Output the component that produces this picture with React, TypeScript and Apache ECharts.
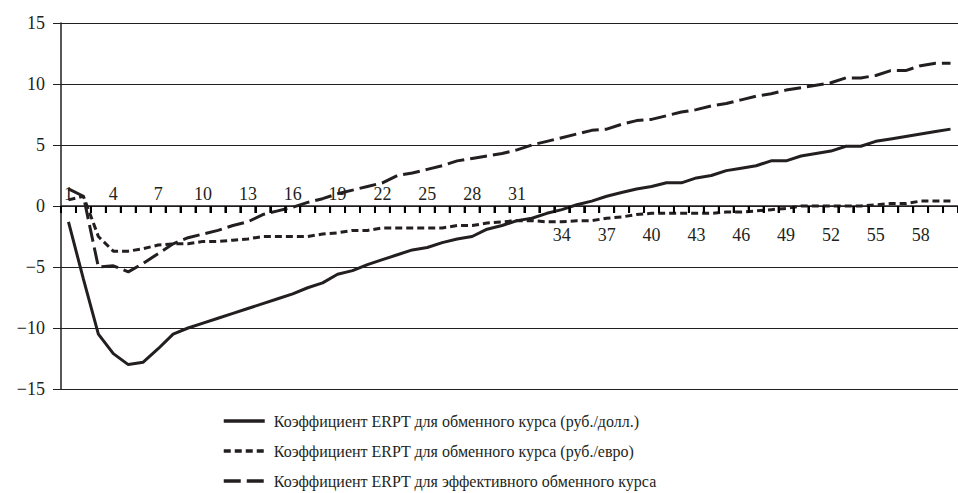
import React, { useEffect, useRef } from "react";
import * as echarts from "echarts";

const categories: string[] = [
  "1", "2", "3", "4", "5", "6", "7", "8", "9", "10",
  "11", "12", "13", "14", "15", "16", "17", "18", "19", "20",
  "21", "22", "23", "24", "25", "26", "27", "28", "29", "30",
  "31", "32", "33", "34", "35", "36", "37", "38", "39", "40",
  "41", "42", "43", "44", "45", "46", "47", "48", "49", "50",
  "51", "52", "53", "54", "55", "56", "57", "58", "59", "60",
];

const seriesNames: string[] = [
  "Коэффициент ERPT для обменного курса (руб./долл.)",
  "Коэффициент ERPT для обменного курса (руб./евро)",
  "Коэффициент ERPT для эффективного обменного курса",
];

const usdValues: number[] = [
  -1.3, -6.0, -10.5, -12.1, -13.0, -12.8, -11.7, -10.5, -10.0, -9.6,
  -9.2, -8.8, -8.4, -8.0, -7.6, -7.2, -6.7, -6.3, -5.6, -5.3,
  -4.8, -4.4, -4.0, -3.6, -3.4, -3.0, -2.7, -2.5, -1.9, -1.6,
  -1.2, -1.0, -0.6, -0.3, 0.1, 0.4, 0.8, 1.1, 1.4, 1.6,
  1.9, 1.9, 2.3, 2.5, 2.9, 3.1, 3.3, 3.7, 3.7, 4.1,
  4.3, 4.5, 4.9, 4.9, 5.3, 5.5, 5.7, 5.9, 6.1, 6.3,
];

const eurValues: number[] = [
  0.5, 0.8, -2.5, -3.7, -3.7, -3.5, -3.2, -3.1, -3.1, -2.9,
  -2.9, -2.8, -2.7, -2.5, -2.5, -2.5, -2.5, -2.3, -2.2, -2.0,
  -2.0, -1.8, -1.8, -1.8, -1.8, -1.8, -1.6, -1.6, -1.4, -1.3,
  -1.2, -1.2, -1.3, -1.3, -1.2, -1.2, -1.0, -0.9, -0.7, -0.6,
  -0.6, -0.6, -0.6, -0.6, -0.5, -0.5, -0.4, -0.3, -0.2, 0.0,
  0.0, 0.0, 0.0, 0.0, 0.1, 0.2, 0.2, 0.4, 0.4, 0.4,
];

const effValues: number[] = [
  1.4, 0.8, -5.0, -4.9, -5.4, -4.7, -3.9, -3.1, -2.6, -2.3,
  -2.0, -1.6, -1.3, -0.7, -0.4, -0.1, 0.3, 0.6, 1.0, 1.3,
  1.6, 1.9, 2.5, 2.7, 3.0, 3.3, 3.7, 3.9, 4.1, 4.3,
  4.6, 5.0, 5.3, 5.6, 5.9, 6.2, 6.3, 6.7, 7.0, 7.1,
  7.4, 7.7, 7.9, 8.2, 8.4, 8.7, 9.0, 9.2, 9.5, 9.7,
  9.9, 10.1, 10.5, 10.5, 10.7, 11.1, 11.1, 11.5, 11.7, 11.7,
];

const yMin = -15;
const yMax = 15;
const yStep = 5;
const lastTopLabel = 31;

const INK = "#231f20";
const FONT = "Liberation Serif";
const W = 958;
const H = 493;
const GRID = { left: 61, right: -8, top: 23, bottom: 104 };
const TICK_LEN = 7;

export default function App() {
  const ref = useRef<HTMLDivElement>(null);

  useEffect(() => {
    if (!ref.current) return;
    const chart = echarts.init(ref.current, undefined, { renderer: "svg" });
    const lineBase = { type: "line" as const, symbol: "none", showSymbol: false };

    // tick marks at the boundaries between categories, hanging below the zero line
    const boundaryTicks = categories.map((_, i) => [i + 1.5, 0]);
    const tickSeries = {
      type: "scatter" as const,
      name: "ticks",
      silent: true,
      clip: false,
      xAxisIndex: 2,
      yAxisIndex: 0,
      data: boundaryTicks,
      symbol: "rect",
      symbolSize: [2, TICK_LEN],
      symbolOffset: [0, TICK_LEN / 2],
      itemStyle: { color: "#000000", opacity: 1 },
      z: 10,
    };

    const buildOption = (bottomOffset: number, topOffset: number) => ({
      animation: false,
      backgroundColor: "#ffffff",
      textStyle: { fontFamily: FONT, color: INK },
      grid: { ...GRID, containLabel: false },
      legend: {
        orient: "vertical",
        left: 222,
        top: 413,
        height: 90,
        padding: 0,
        itemWidth: 41,
        itemHeight: 14,
        itemGap: 14,
        itemStyle: { color: "rgba(0,0,0,0)", borderColor: "rgba(0,0,0,0)", borderWidth: 0 },
        lineStyle: { width: 3.5 },
        textStyle: { fontFamily: FONT, fontSize: 16, color: INK, padding: [0, 0, 0, 4] },
        data: seriesNames,
      },
      xAxis: [
        {
          type: "category",
          data: categories,
          position: "bottom",
          offset: bottomOffset,
          boundaryGap: true,
          axisLine: { show: true, onZero: false, lineStyle: { color: INK, width: 1.5 } },
          axisTick: { show: true, interval: 0, length: TICK_LEN, inside: false, lineStyle: { color: "#000000", width: 2 } },
          axisLabel: {
            interval: 2,
            margin: 20,
            fontFamily: FONT,
            fontSize: 18,
            color: INK,
            formatter: (v: string) => (Number(v) > lastTopLabel ? v : ""),
          },
          splitLine: { show: false },
        },
        {
          type: "category",
          data: categories,
          position: "top",
          offset: topOffset,
          boundaryGap: true,
          axisLine: { show: false, onZero: false },
          axisTick: { show: false },
          axisLabel: {
            interval: 2,
            margin: 3,
            fontFamily: FONT,
            fontSize: 18,
            color: INK,
            formatter: (v: string) => (Number(v) <= lastTopLabel ? v : ""),
          },
          splitLine: { show: false },
        },
        {
          type: "value",
          min: 0.5,
          max: categories.length + 0.5,
          show: false,
          axisLine: { show: false, onZero: false },
          splitLine: { show: false },
        },
      ],
      yAxis: {
        type: "value",
        min: yMin,
        max: yMax,
        interval: yStep,
        axisLine: { show: true, onZero: false, lineStyle: { color: INK, width: 1.5 } },
        axisTick: { show: true, length: 8, lineStyle: { color: INK, width: 1 } },
        axisLabel: {
          margin: 16,
          fontFamily: FONT,
          fontSize: 18,
          color: INK,
          formatter: (v: number) => (v < 0 ? "\u2212" + Math.abs(v) : String(v)),
        },
        splitLine: { show: true, lineStyle: { color: INK, width: 1 } },
      },
      series: [
        tickSeries,
        {
          ...lineBase,
          name: seriesNames[0],
          data: usdValues,
          lineStyle: { color: INK, width: 3, type: "solid" },
          itemStyle: { color: INK },
        },
        {
          ...lineBase,
          name: seriesNames[1],
          data: eurValues,
          lineStyle: { color: INK, width: 3, type: [7, 4] },
          itemStyle: { color: INK },
        },
        {
          ...lineBase,
          name: seriesNames[2],
          data: effValues,
          lineStyle: { color: INK, width: 3, type: [17, 6] },
          itemStyle: { color: INK },
        },
      ],
    });

    chart.setOption(buildOption(0, 0));
    // place the category axis on the value axis' zero, using the library's own scale
    const yZero = chart.convertToPixel({ yAxisIndex: 0 }, 0) as number;
    const gridTop = GRID.top;
    const gridBottom = H - GRID.bottom;
    chart.setOption(buildOption(yZero - gridBottom, gridTop - yZero));

    return () => chart.dispose();
  }, []);

  return (
    <div
      ref={ref}
      style={{ position: "fixed", left: 0, top: 0, width: W, height: H, background: "#fff" }}
    />
  );
}
